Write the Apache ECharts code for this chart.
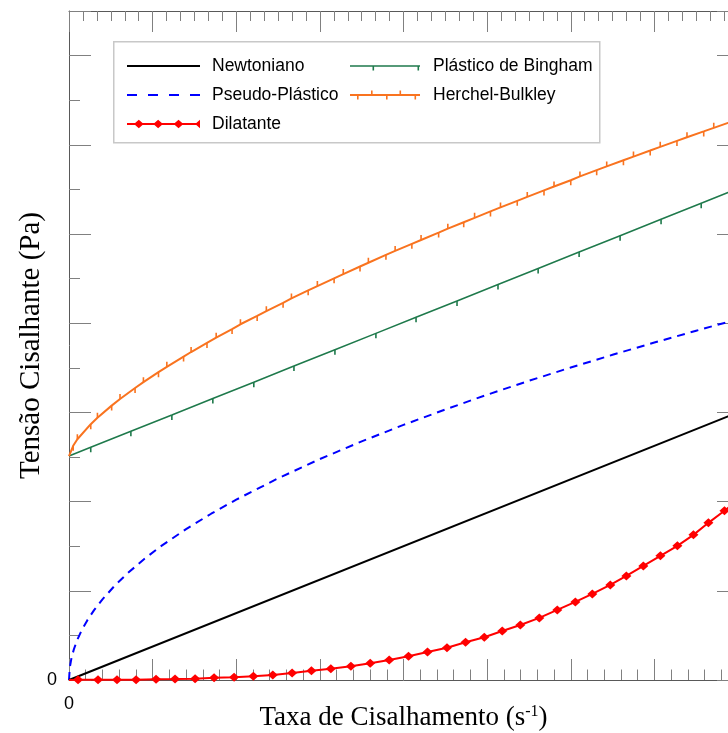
<!DOCTYPE html>
<html>
<head>
<meta charset="utf-8">
<script src="https://cdn.jsdelivr.net/npm/echarts@6/dist/echarts.min.js"></script>
<style>
  html, body { margin: 0; padding: 0; overflow: hidden; background: #fff; }
  #c { width: 750px; height: 733px; }
</style>
</head>
<body>
<div id="c"></div>
<script>
// Shear rate (x) and shear stress (y) for each rheological model
const shearNewton = [0, 8];
const stressNewton = [0, 3.0];

const shearPseudo = [0, 0.01, 0.03, 0.06, 0.1, 0.15, 0.22, 0.3, 0.4, 0.55, 0.7, 0.9, 1.1, 1.4, 1.7, 2.0, 2.5, 3, 3.5, 4, 4.5, 5, 5.5, 6, 6.5, 7, 7.5, 8];
const stressPseudo = [0, 0.143, 0.248, 0.350, 0.452, 0.554, 0.671, 0.783, 0.904, 1.061, 1.196, 1.357, 1.500, 1.692, 1.864, 2.022, 2.261, 2.477, 2.675, 2.860, 3.033, 3.198, 3.354, 3.503, 3.646, 3.783, 3.916, 4.045];

const shearDilat = [0, 0.108, 0.347, 0.574, 0.802, 1.041, 1.268, 1.508, 1.735, 1.974, 2.205, 2.437, 2.668, 2.899, 3.131, 3.371, 3.602, 3.829, 4.060, 4.287, 4.520, 4.742, 4.966, 5.181, 5.397, 5.624, 5.839, 6.055, 6.258, 6.473, 6.665, 6.868, 7.072, 7.275, 7.467, 7.646, 7.838, 8.0];
const stressDilat = [0, 0.003, 0.003, 0.003, 0.003, 0.008, 0.011, 0.015, 0.026, 0.030, 0.041, 0.056, 0.079, 0.105, 0.127, 0.154, 0.188, 0.224, 0.266, 0.314, 0.362, 0.423, 0.479, 0.550, 0.617, 0.696, 0.786, 0.875, 0.965, 1.066, 1.167, 1.279, 1.392, 1.504, 1.627, 1.762, 1.897, 2.017];

const shearBingham = [0, 0.26, 0.74, 1.23, 1.72, 2.21, 2.69, 3.18, 3.67, 4.15, 4.64, 5.13, 5.61, 6.10, 6.59, 7.08, 7.56, 8];
const stressBingham = [2.51, 2.608, 2.788, 2.971, 3.155, 3.339, 3.519, 3.703, 3.886, 4.066, 4.250, 4.434, 4.614, 4.798, 4.981, 5.165, 5.345, 5.510];

const shearHB = [0, 0.05, 0.10, 0.26, 0.34, 0.51, 0.61, 0.79, 0.89, 1.07, 1.17, 1.37, 1.46, 1.65, 1.76, 1.95, 2.05, 2.25, 2.36, 2.56, 2.66, 2.86, 2.97, 3.17, 3.28, 3.48, 3.58, 3.79, 3.90, 4.10, 4.21, 4.42, 4.53, 4.72, 4.85, 5.04, 5.16, 5.36, 5.48, 5.68, 5.80, 6.00, 6.11, 6.31, 6.43, 6.63, 6.75, 6.95, 7.07, 7.27, 7.39, 7.59, 7.71, 8];
const stressHB = [2.51, 2.626, 2.699, 2.868, 2.940, 3.076, 3.150, 3.274, 3.339, 3.451, 3.511, 3.626, 3.677, 3.779, 3.837, 3.934, 3.988, 4.081, 4.135, 4.228, 4.278, 4.368, 4.416, 4.503, 4.551, 4.636, 4.678, 4.766, 4.810, 4.890, 4.933, 5.016, 5.060, 5.132, 5.181, 5.253, 5.298, 5.372, 5.416, 5.489, 5.532, 5.603, 5.646, 5.716, 5.758, 5.827, 5.868, 5.936, 5.977, 6.044, 6.084, 6.150, 6.190, 6.285];

const seriesNames = ['Newtoniano', 'Pseudo-Plástico', 'Dilatante', 'Plástico de Bingham', 'Herchel-Bulkley'];
const xTitle = 'Taxa de Cisalhamento (s';
const xTitleSup = '-1';
const yTitle = 'Tensão Cisalhante (Pa)';

const zip = (xs, ys) => xs.map((x, i) => [x, ys[i]]);

// Small tick glyphs hanging off a curve. A zero-area point at the far end
// keeps the glyph's box symmetric, so the tick starts at the data point.
const TICK_DOWN = 'path://M0,0L1.6,0L0,0Z M0,5H1.6V10H0Z';
const TICK_UP = 'path://M0,0H1.6V5H0Z M0,10L1.6,10L0,10Z';

// end points of a curve carry no marker
function markedPoints(xs, ys, symbolFor) {
  const last = xs.length - 1;
  return xs.map((x, i) => {
    const item = { value: [x, ys[i]] };
    if (i === 0 || i === last) item.symbol = 'none';
    else if (symbolFor) item.symbol = symbolFor(i);
    return item;
  });
}

// legend glyphs: line samples with their markers
const ICON_SOLID = 'path://M0,4H73V6H0Z';
const ICON_DASHED = 'path://M0,4H10V6H0Z M21,4H31V6H21Z M42,4H52V6H42Z M63,4H73V6H63Z';
const ICON_DIAMONDS = 'path://M0,4H68V6H0Z M6.5,5L11,1L15.5,5L11,9Z M24.5,5L29,1L33.5,5L29,9Z M43.5,5L48,1L52.5,5L48,9Z M63.5,5L68,1L68,9Z';
const ICON_BINGHAM = 'path://M35,0.5L35.01,0.5L35,0.5Z M0,4.2H70V5.8H0Z M22.5,5H24.1V9.5H22.5Z M67.5,5H69.1V9.5H67.5Z';
const ICON_HB = 'path://M0,4H70V6H0Z M7,5H8.6V9.5H7Z M21,0.5H22.6V5H21Z M36,5H37.6V9.5H36Z M49.5,0.5H51.1V5H49.5Z M64.5,5H66.1V9.5H64.5Z';

const AXIS_LINE = '#595959';
const TICK = '#808080';
const SANS = 'Liberation Sans';
const SERIF = 'Liberation Serif';

const baseX = {
  type: 'value', min: 0, max: 8, interval: 1,
  axisLine: { show: true, onZero: false, lineStyle: { color: AXIS_LINE, width: 1 } },
  splitLine: { show: false }
};
const baseY = {
  type: 'value', min: 0, max: 7.5,
  axisLine: { show: true, onZero: false, lineStyle: { color: AXIS_LINE, width: 1 } },
  splitLine: { show: false }
};

const legendText = { fontFamily: SANS, fontSize: 17.5, color: '#000' };

const chart = echarts.init(document.getElementById('c'), null, { renderer: 'canvas' });

chart.setOption({
  animation: false,
  backgroundColor: '#fff',
  grid: { left: 69, right: 12, top: 11, bottom: 53, containLabel: false, outerBoundsMode: 'none' },
  xAxis: [
    Object.assign({}, baseX, {
      position: 'bottom',
      axisTick: { show: true, inside: true, length: 21, lineStyle: { color: TICK, width: 1 } },
      minorTick: { show: true, splitNumber: 5, length: 10.5, lineStyle: { color: TICK, width: 1 } },
      axisLabel: {
        show: true, margin: 15, color: '#000', fontFamily: SANS, fontSize: 18,
        formatter: v => (v === 0 ? '0' : '')
      },
      name: '{t|' + xTitle + '}{s|' + xTitleSup + '}{t|)}',
      nameLocation: 'middle', nameGap: 24, nameMoveOverlap: false,
      nameTextStyle: {
        rich: {
          t: { fontFamily: SERIF, fontSize: 27, color: '#000' },
          s: { fontFamily: SERIF, fontSize: 16, color: '#000', padding: [0, 0, 12, 0] }
        }
      }
    }),
    Object.assign({}, baseX, {
      position: 'top',
      axisTick: { show: true, inside: true, length: 21, lineStyle: { color: TICK, width: 1 } },
      minorTick: { show: true, splitNumber: 6, length: 10, lineStyle: { color: TICK, width: 1 } },
      axisLabel: { show: false }
    })
  ],
  yAxis: [
    // left axis: major ticks and labels
    Object.assign({}, baseY, {
      position: 'left', interval: 1,
      axisTick: { show: true, inside: true, length: 22, lineStyle: { color: TICK, width: 1 } },
      axisLabel: {
        show: true, margin: 12, color: '#000', fontFamily: SANS, fontSize: 18,
        formatter: v => (v === 0 ? '0' : '')
      },
      name: yTitle, nameLocation: 'middle', nameGap: 23, nameRotate: 90, nameMoveOverlap: false,
      nameTextStyle: { fontFamily: SERIF, fontSize: 29, color: '#000' }
    }),
    // left axis: half-step minor ticks
    Object.assign({}, baseY, {
      position: 'left', interval: 0.5,
      axisLine: { show: false },
      axisTick: { show: true, inside: true, length: 11, lineStyle: { color: TICK, width: 1 } },
      axisLabel: { show: false }
    }),
    // right frame
    Object.assign({}, baseY, {
      position: 'right', interval: 1,
      axisTick: { show: true, inside: true, length: 21, lineStyle: { color: TICK, width: 1 } },
      axisLabel: { show: false }
    })
  ],
  legend: [
    {
      data: [
        { name: seriesNames[0], icon: ICON_SOLID },
        { name: seriesNames[1], icon: ICON_DASHED },
        { name: seriesNames[2], icon: ICON_DIAMONDS }
      ],
      orient: 'vertical', left: 127, top: 57,
      padding: 0, itemWidth: 73, itemHeight: 14, itemGap: 11, selectedMode: false,
      textStyle: Object.assign({ padding: [0, 0, 0, 7] }, legendText)
    },
    {
      data: [
        { name: seriesNames[3], icon: ICON_BINGHAM },
        { name: seriesNames[4], icon: ICON_HB }
      ],
      orient: 'vertical', left: 350, top: 57,
      padding: 0, itemWidth: 70, itemHeight: 14, itemGap: 11, selectedMode: false,
      textStyle: Object.assign({ padding: [0, 0, 0, 8] }, legendText)
    }
  ],
  graphic: [
    {
      type: 'rect', left: 113, top: 41, z: 0, silent: true,
      shape: { width: 486, height: 101 },
      style: { fill: '#fff', stroke: '#c8c8c8', lineWidth: 1.5 }
    }
  ],
  series: [
    {
      name: seriesNames[3], type: 'line', xAxisIndex: 0, yAxisIndex: 0,
      data: markedPoints(shearBingham, stressBingham, () => TICK_DOWN),
      symbolSize: [1.6, 10], symbolKeepAspect: false,
      showSymbol: true, showAllSymbol: true,
      lineStyle: { color: '#1f7a4c', width: 1.6 },
      itemStyle: { color: '#1f7a4c' }, z: 3
    },
    {
      name: seriesNames[4], type: 'line', xAxisIndex: 0, yAxisIndex: 0,
      data: markedPoints(shearHB, stressHB, i => (i % 2 === 1 ? TICK_DOWN : TICK_UP)),
      symbolSize: [1.6, 10], symbolKeepAspect: false,
      showSymbol: true, showAllSymbol: true,
      lineStyle: { color: '#f9731f', width: 2 },
      itemStyle: { color: '#f9731f' }, z: 4
    },
    {
      name: seriesNames[1], type: 'line', xAxisIndex: 0, yAxisIndex: 0,
      data: zip(shearPseudo, stressPseudo),
      symbol: 'none',
      lineStyle: { color: '#0000ff', width: 2, type: [8, 6] },
      itemStyle: { color: '#0000ff' }, z: 5
    },
    {
      name: seriesNames[0], type: 'line', xAxisIndex: 0, yAxisIndex: 0,
      data: zip(shearNewton, stressNewton), symbol: 'none',
      lineStyle: { color: '#000', width: 2 },
      itemStyle: { color: '#000' }, z: 6
    },
    {
      name: seriesNames[2], type: 'line', xAxisIndex: 0, yAxisIndex: 0,
      data: markedPoints(shearDilat, stressDilat),
      symbol: 'diamond', symbolSize: [10, 9],
      showSymbol: true, showAllSymbol: true,
      lineStyle: { color: '#ff0000', width: 2 },
      itemStyle: { color: '#ff0000' }, z: 7
    }
  ]
});
</script>
</body>
</html>
